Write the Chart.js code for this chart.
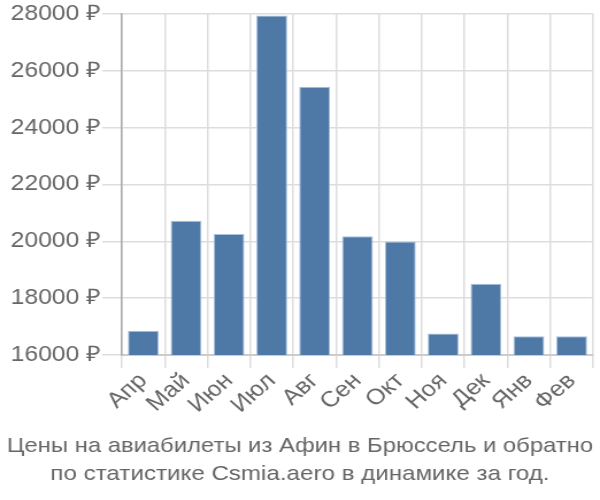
<!DOCTYPE html>
<html>
<head>
<meta charset="utf-8">
<script src="https://cdn.jsdelivr.net/npm/chart.js@4"></script>
<style>
html,body{margin:0;padding:0;background:#fff;overflow:hidden;}
#wrap{width:522px;height:500px;transform:scale(1.1494,1);transform-origin:0 0;}
</style>
</head>
<body>
<div id="wrap"><canvas id="c" width="522" height="500"></canvas></div>
<script>
const categories = ["Апр","Май","Июн","Июл","Авг","Сен","Окт","Ноя","Дек","Янв","Фев"];
const prices = [16850, 20720, 20260, 27940, 25440, 20180, 19990, 16760, 18510, 16660, 16660];
const yTicks = [16000, 18000, 20000, 22000, 24000, 26000, 28000];
const titleLines = ["Цены на авиабилеты из Афин в Брюссель и обратно", "по статистике Csmia.aero в динамике за год."];

const FONT = "'Liberation Sans', Arial, sans-serif";
new Chart(document.getElementById('c'), {
  type: 'bar',
  data: {
    labels: categories,
    datasets: [{
      data: prices,
      backgroundColor: '#4e79a7',
      borderColor: '#a9c1dc',
      borderWidth: 1,
      categoryPercentage: 0.8,
      barPercentage: 0.9
    }]
  },
  options: {
    responsive: false,
    animation: false,
    layout: { padding: { left: 6, right: 6, top: 4, bottom: 0 } },
    plugins: {
      legend: { display: false },
      tooltip: { enabled: false },
      title: {
        display: true,
        position: 'bottom',
        text: titleLines,
        color: '#666',
        font: { family: FONT, size: 21, weight: 'normal', lineHeight: 1.333 },
        padding: { top: 0, bottom: 12 }
      }
    },
    scales: {
      x: {
        afterFit: (axis) => { axis.height = 77; },
        grid: { color: '#ddd', lineWidth: 1.5, tickLength: 13 },
        border: { color: '#ccc', width: 2 },
        ticks: { color: '#666', font: { family: FONT, size: 22 }, maxRotation: 45, minRotation: 45, padding: 0, autoSkip: false }
      },
      y: {
        min: 16000, max: 28000,
        afterFit: (axis) => { axis.width = 100; },
        afterBuildTicks: (axis) => { axis.ticks = yTicks.map(v => ({ value: v })); },
        grid: { color: '#ddd', lineWidth: 1.5, tickLength: 17 },
        border: { color: '#aaa', width: 1.5 },
        ticks: { color: '#666', font: { family: FONT, size: 21.5 }, padding: 1, callback: (v) => v + ' ₽' }
      }
    }
  }
});
</script>
</body>
</html>
